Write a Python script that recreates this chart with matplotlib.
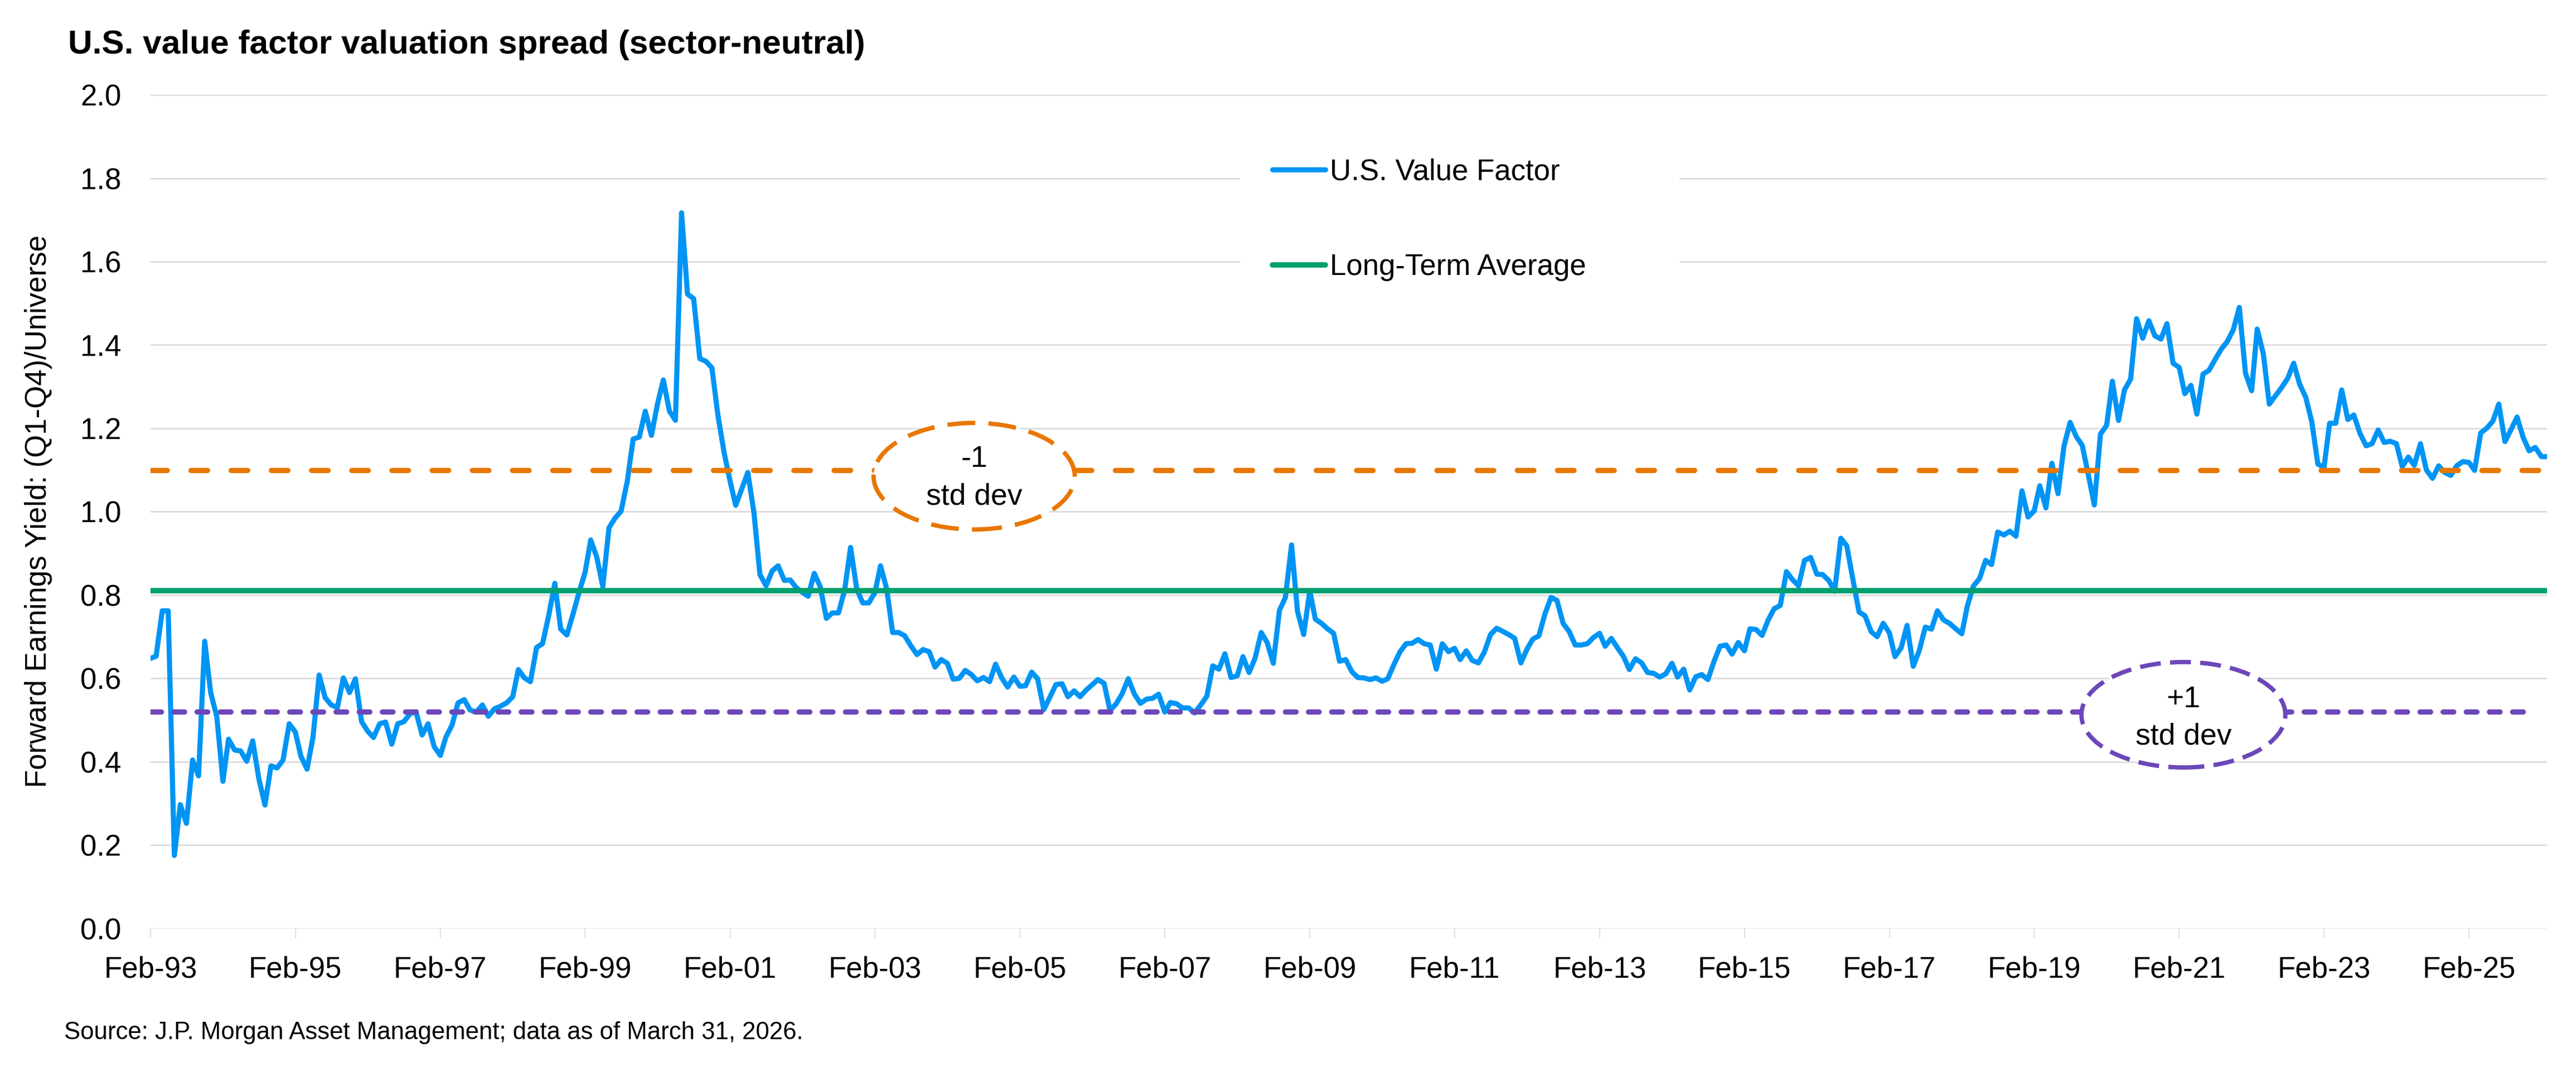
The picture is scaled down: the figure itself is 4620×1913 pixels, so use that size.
import pandas as pd
import matplotlib
matplotlib.use('Agg')
from matplotlib import pyplot as plt
from matplotlib.patches import Ellipse, Rectangle
import matplotlib.dates as mdates

plt.rcParams['font.family'] = ['Liberation Sans', 'DejaVu Sans']
plt.rcParams['lines.scale_dashes'] = False

# monthly readings, Feb-1993 .. Mar-2026 (one row = Feb..Jan)
value_factor = [
    0.648, 0.653, 0.762, 0.762, 0.175, 0.297, 0.252, 0.404, 0.366, 0.689, 0.566, 0.508,
    0.353, 0.454, 0.428, 0.426, 0.401, 0.450, 0.359, 0.296, 0.390, 0.385, 0.404, 0.491,
    0.471, 0.413, 0.382, 0.459, 0.608, 0.554, 0.536, 0.530, 0.601, 0.566, 0.599, 0.496,
    0.473, 0.458, 0.491, 0.495, 0.442, 0.491, 0.496, 0.515, 0.520, 0.464, 0.491, 0.436,
    0.415, 0.459, 0.488, 0.541, 0.549, 0.524, 0.519, 0.536, 0.509, 0.527, 0.533, 0.541,
    0.556, 0.621, 0.601, 0.592, 0.674, 0.683, 0.750, 0.828, 0.718, 0.704, 0.753, 0.806,
    0.855, 0.932, 0.890, 0.820, 0.961, 0.984, 1.001, 1.072, 1.174, 1.179, 1.241, 1.183,
    1.259, 1.316, 1.241, 1.219, 1.717, 1.522, 1.511, 1.367, 1.361, 1.345, 1.232, 1.143,
    1.072, 1.015, 1.055, 1.094, 0.997, 0.849, 0.822, 0.858, 0.870, 0.835, 0.836, 0.817,
    0.806, 0.797, 0.852, 0.820, 0.744, 0.757, 0.757, 0.811, 0.914, 0.815, 0.781, 0.781,
    0.806, 0.870, 0.815, 0.710, 0.710, 0.702, 0.678, 0.657, 0.669, 0.664, 0.627, 0.645,
    0.636, 0.598, 0.600, 0.619, 0.609, 0.594, 0.602, 0.592, 0.634, 0.601, 0.579, 0.603,
    0.581, 0.582, 0.615, 0.599, 0.525, 0.554, 0.585, 0.587, 0.556, 0.570, 0.556, 0.572,
    0.585, 0.597, 0.588, 0.523, 0.539, 0.563, 0.599, 0.562, 0.540, 0.550, 0.552, 0.562,
    0.519, 0.542, 0.539, 0.529, 0.529, 0.517, 0.536, 0.557, 0.630, 0.622, 0.659, 0.602,
    0.606, 0.652, 0.614, 0.648, 0.710, 0.686, 0.636, 0.763, 0.794, 0.920, 0.761, 0.705,
    0.810, 0.742, 0.732, 0.719, 0.708, 0.641, 0.645, 0.616, 0.602, 0.601, 0.597, 0.601,
    0.593, 0.599, 0.633, 0.663, 0.683, 0.684, 0.693, 0.683, 0.680, 0.622, 0.683, 0.664,
    0.672, 0.645, 0.666, 0.643, 0.637, 0.663, 0.705, 0.720, 0.713, 0.705, 0.696, 0.637,
    0.670, 0.694, 0.702, 0.754, 0.794, 0.787, 0.732, 0.712, 0.680, 0.680, 0.683, 0.698,
    0.708, 0.677, 0.696, 0.674, 0.653, 0.621, 0.647, 0.637, 0.614, 0.612, 0.603, 0.611,
    0.636, 0.603, 0.622, 0.572, 0.604, 0.609, 0.597, 0.641, 0.677, 0.680, 0.658, 0.686,
    0.666, 0.719, 0.717, 0.703, 0.740, 0.767, 0.775, 0.856, 0.837, 0.822, 0.883, 0.890,
    0.850, 0.849, 0.835, 0.809, 0.936, 0.918, 0.837, 0.759, 0.750, 0.712, 0.700, 0.732,
    0.709, 0.652, 0.673, 0.727, 0.629, 0.666, 0.723, 0.718, 0.762, 0.740, 0.732, 0.719,
    0.707, 0.774, 0.822, 0.839, 0.883, 0.873, 0.951, 0.944, 0.953, 0.941, 1.050, 0.987,
    1.002, 1.062, 1.009, 1.116, 1.043, 1.157, 1.214, 1.180, 1.159, 1.088, 1.016, 1.186,
    1.207, 1.313, 1.219, 1.292, 1.318, 1.463, 1.416, 1.458, 1.422, 1.414, 1.451, 1.356,
    1.346, 1.283, 1.303, 1.234, 1.330, 1.339, 1.365, 1.390, 1.408, 1.437, 1.490, 1.332,
    1.290, 1.438, 1.379, 1.258, 1.278, 1.297, 1.319, 1.356, 1.306, 1.274, 1.216, 1.114,
    1.106, 1.212, 1.212, 1.292, 1.221, 1.232, 1.188, 1.158, 1.163, 1.196, 1.166, 1.169,
    1.163, 1.108, 1.131, 1.111, 1.163, 1.100, 1.080, 1.110, 1.094, 1.087, 1.110, 1.120,
    1.118, 1.099, 1.189, 1.200, 1.217, 1.258, 1.168, 1.197, 1.227, 1.178, 1.146, 1.154,
    1.132, 1.132,
]
dates = pd.date_range('1993-02-01', periods=len(value_factor), freq='MS')

long_term_avg = 0.81
minus_1_std = 1.10
plus_1_std = 0.52
y_ticks = [0.0, 0.2, 0.4, 0.6, 0.8, 1.0, 1.2, 1.4, 1.6, 1.8, 2.0]
x_ticks = pd.to_datetime(['%d-02-01' % y for y in range(1993, 2026, 2)])

blue = '#0094F4'
green = '#00A070'
orange = '#E87700'
purple = '#6C47B9'
grid_c = '#D9D9D9'

fig = plt.figure(figsize=(46.2, 19.13), dpi=100)
ax = fig.add_axes([0.05844, 0.1299, 0.9303, 0.7812])

line_vf, = ax.plot(dates, value_factor, color=blue, lw=6.6, solid_joinstyle='round',
                   solid_capstyle='round', label='U.S. Value Factor', zorder=3)
line_lt = ax.axhline(long_term_avg, color=green, lw=7, solid_capstyle='round',
                     label='Long-Term Average', zorder=4)
ax.axhline(minus_1_std, color=orange, lw=6.8, dashes=(21.3, 30.6),
           dash_capstyle='round', zorder=4)
ax.axhline(plus_1_std, xmax=0.995, color=purple, lw=6.8, dashes=(13.7, 16.2),
           dash_capstyle='round', zorder=4)

# white box behind the legend
ax.add_patch(Rectangle((0.4546, 0.729), 0.1834, 0.2275, transform=ax.transAxes,
                       facecolor='white', edgecolor='none', zorder=1))

# std dev callouts
e1 = Ellipse((mdates.date2num(pd.Timestamp('2004-06-15')), 1.085), 1014, 0.2556,
             facecolor='white', edgecolor=orange, lw=5.6, zorder=5)
e1.set_linestyle((0, (36, 17)))
ax.add_patch(e1)
e2 = Ellipse((mdates.date2num(pd.Timestamp('2021-02-22')), 0.5126), 1028, 0.253,
             facecolor='white', edgecolor=purple, lw=5.6, zorder=5)
e2.set_linestyle((0, (27, 12)))
ax.add_patch(e2)
ax.text(pd.Timestamp('2004-06-15'), 1.126, '-1', ha='center', va='center', fontsize=38.5, zorder=6)
ax.text(pd.Timestamp('2004-06-15'), 1.036, 'std dev', ha='center', va='center', fontsize=38.5, zorder=6)
ax.text(pd.Timestamp('2021-02-22'), 0.550, '+1', ha='center', va='center', fontsize=38.5, zorder=6)
ax.text(pd.Timestamp('2021-02-22'), 0.461, 'std dev', ha='center', va='center', fontsize=38.5, zorder=6)

ax.set_xlim(dates[0], dates[-1])
ax.set_ylim(0, 2.0)
ax.set_yticks(y_ticks)
ax.set_yticklabels(['%.1f' % v for v in y_ticks])
ax.set_xticks(x_ticks)
ax.xaxis.set_major_formatter(mdates.DateFormatter('%b-%y'))
ax.yaxis.grid(True, color=grid_c, lw=1.8)
ax.set_axisbelow(True)
for s in ax.spines.values():
    s.set_visible(False)
ax.tick_params(axis='y', length=0, pad=38, labelsize=38)
ax.tick_params(axis='x', length=12, width=1.2, color=grid_c, pad=23.5, labelsize=38)

ax.legend(handles=[line_vf, line_lt], loc='upper left', bbox_to_anchor=(0.4939, 0.852),
          bbox_transform=fig.transFigure, frameon=False, fontsize=38, handlelength=1.8,
          handletextpad=0.15, labelspacing=2.29, borderpad=0, borderaxespad=0)

fig.text(122 / 4620, 1 - 96 / 1913, 'U.S. value factor valuation spread (sector-neutral)',
         fontsize=43.5, fontweight='bold', va='baseline')
fig.text(69 / 4620, 1 - 917 / 1913, 'Forward Earnings Yield: (Q1-Q4)/Universe',
         rotation=90, ha='center', va='center', fontsize=38)
fig.text(115 / 4620, 1 - 1863 / 1913,
         'Source: J.P. Morgan Asset Management; data as of March 31, 2026.',
         fontsize=31.5, va='baseline')

fig.savefig('out.png', dpi=100)
